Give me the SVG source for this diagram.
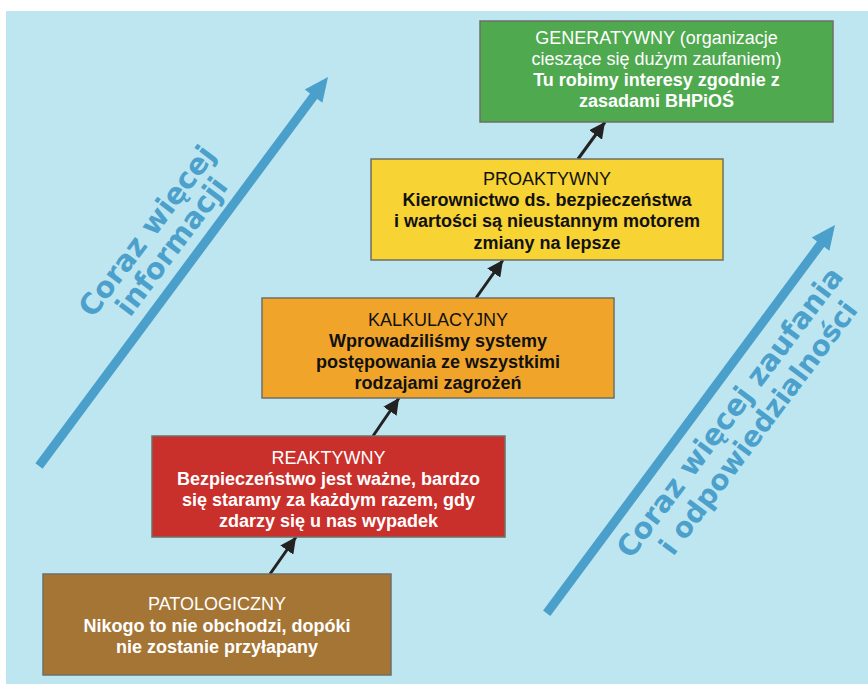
<svg xmlns="http://www.w3.org/2000/svg" width="868" height="684" viewBox="0 0 868 684">
<style>
.box{stroke:#6f6f66;stroke-width:1.5}
.t{font-family:"Liberation Sans",Arial,sans-serif;font-size:18px;text-anchor:middle}
.b{font-weight:bold}
.w{fill:#ffffff}
.k{fill:#111111}
.big{font-family:"DejaVu Sans",Verdana,sans-serif;font-weight:bold;fill:#4BA0CC}
.con{stroke:#222222;stroke-width:3;fill:none}
</style>
<defs>
<marker id="ah" markerUnits="userSpaceOnUse" markerWidth="18" markerHeight="16" refX="16" refY="8" orient="auto">
<path d="M0,0 L16,8 L0,16 Z" fill="#222222"/>
</marker>
</defs>
<rect x="0" y="0" width="868" height="684" fill="#ffffff"/>
<rect x="6" y="11" width="862" height="673" fill="#BEE6F0"/>

<g id="big-arrows">
<line x1="39" y1="466" x2="314.8" y2="94.6" stroke="#4A9FCB" stroke-width="9"/>
<polygon points="328,77 322.4,102.8 304.8,89.6" fill="#4A9FCB"/>
<line x1="546.7" y1="613.3" x2="821.5" y2="243" stroke="#4A9FCB" stroke-width="9"/>
<polygon points="835,225 829.4,250.8 811.8,237.6" fill="#4A9FCB"/>
</g>

<g id="label-left">
<text class="big" font-size="29" transform="translate(93,319) rotate(-53)">Coraz więcej</text>
<text class="big" font-size="29" transform="translate(130,318) rotate(-53)">informacji</text>
</g>
<g id="label-right">
<text class="big" font-size="29" transform="translate(631,560) rotate(-53)">Coraz więcej zaufania</text>
<text class="big" font-size="28" transform="translate(673,557) rotate(-53)">i odpowiedzialności</text>
</g>

<g id="connectors">
<line class="con" x1="270" y1="574" x2="296" y2="537" marker-end="url(#ah)"/>
<line class="con" x1="373" y1="436" x2="399" y2="398" marker-end="url(#ah)"/>
<line class="con" x1="476" y1="298" x2="503" y2="260" marker-end="url(#ah)"/>
<line class="con" x1="578" y1="159" x2="605" y2="122" marker-end="url(#ah)"/>
</g>

<g id="patologiczny">
<rect class="box" x="43" y="574" width="348" height="101" fill="#A57536"/>
<text class="t w" x="217" y="610">PATOLOGICZNY</text>
<text class="t w b" x="217" y="631.5">Nikogo to nie obchodzi, dopóki</text>
<text class="t w b" x="217" y="652.5">nie zostanie przyłapany</text>
</g>

<g id="reaktywny">
<rect class="box" x="152" y="436" width="353" height="101" fill="#C9302C"/>
<text class="t w" x="328.5" y="464">REAKTYWNY</text>
<text class="t w b" x="328.5" y="484.5">Bezpieczeństwo jest ważne, bardzo</text>
<text class="t w b" x="328.5" y="505.5">się staramy za każdym razem, gdy</text>
<text class="t w b" x="328.5" y="527">zdarzy się u nas wypadek</text>
</g>

<g id="kalkulacyjny">
<rect class="box" x="262" y="298" width="352" height="100" fill="#F0A52A"/>
<text class="t k" x="438" y="326">KALKULACYJNY</text>
<text class="t k b" x="438" y="347">Wprowadziliśmy systemy</text>
<text class="t k b" x="438" y="368">postępowania ze wszystkimi</text>
<text class="t k b" x="438" y="389">rodzajami zagrożeń</text>
</g>

<g id="proaktywny">
<rect class="box" x="371" y="159" width="352" height="101" fill="#F7D333"/>
<text class="t k" x="547" y="185">PROAKTYWNY</text>
<text class="t k b" x="547" y="206">Kierownictwo ds. bezpieczeństwa</text>
<text class="t k b" x="547" y="227">i wartości są nieustannym motorem</text>
<text class="t k b" x="547" y="248.5">zmiany na lepsze</text>
</g>

<g id="generatywny">
<rect class="box" x="480" y="21" width="353" height="101" fill="#4FA94F"/>
<text class="t w" x="656.5" y="43.5">GENERATYWNY (organizacje</text>
<text class="t w" x="656.5" y="65">cieszące się dużym zaufaniem)</text>
<text class="t w b" x="656.5" y="86">Tu robimy interesy zgodnie z</text>
<text class="t w b" x="656.5" y="107">zasadami BHPiOŚ</text>
</g>
</svg>
